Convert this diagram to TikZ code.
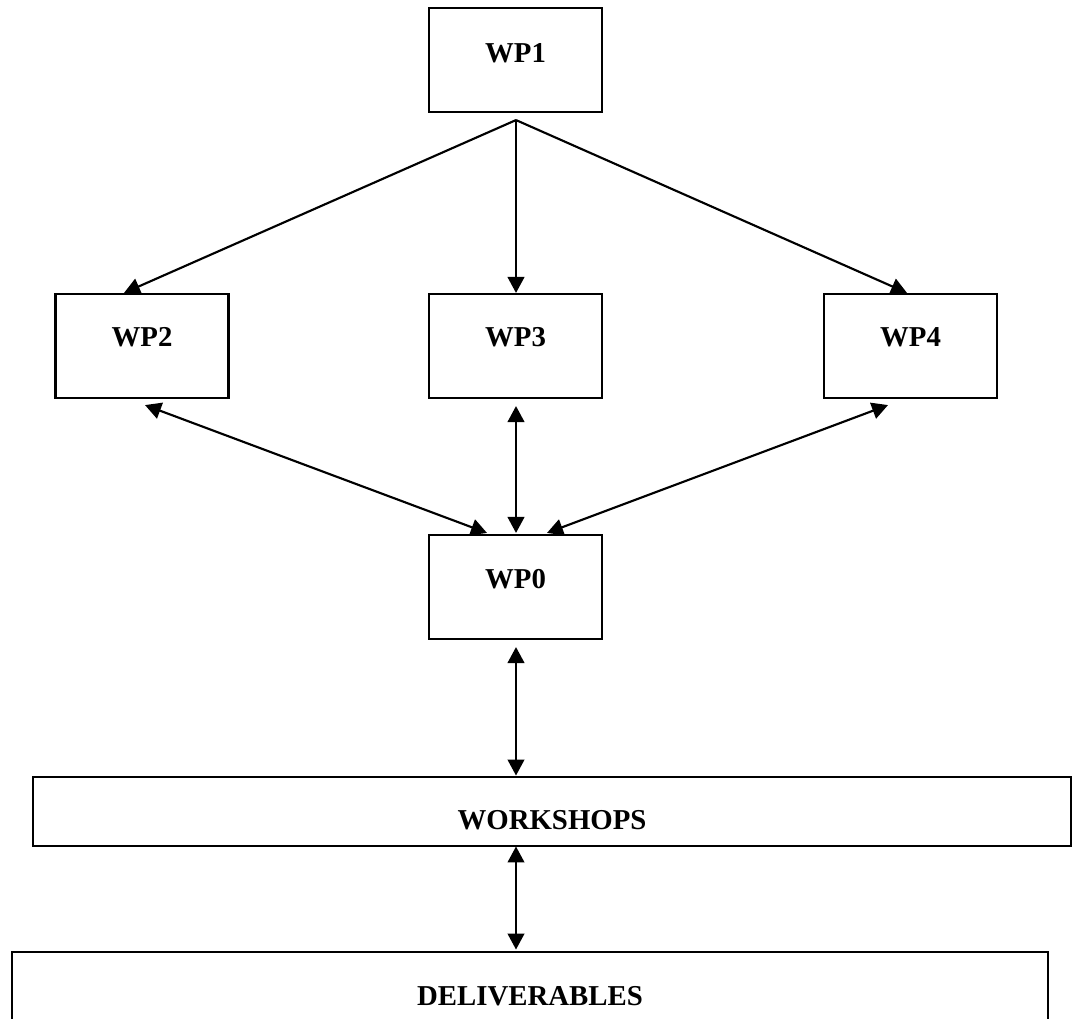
\documentclass[tikz,border=0pt]{standalone}
\usepackage{fontspec}
\setmainfont{Liberation Serif}
\usetikzlibrary{arrows.meta,calc}
\begin{document}
\begin{tikzpicture}[x=0.75pt,y=-0.75pt,
  box/.style={draw=black,line width=1.6pt,fill=white,minimum width=129.75pt,minimum height=78pt,inner sep=0pt},
  widebox/.style={draw=black,line width=2.2pt,inner sep=0pt},
  lbl/.style={font=\fontsize{21.6}{26}\selectfont\bfseries,inner sep=0pt},
  tip/.style={Triangle[length=12pt,width=12.5pt]},
  conn/.style={line width=1.6pt,-{Triangle[length=12pt,width=12.5pt]}},
  biconn/.style={line width=1.6pt,{Triangle[length=12pt,width=12.5pt]}-{Triangle[length=12pt,width=12.5pt]}}]
\useasboundingbox[fill=white] (0,0) rectangle (1073,1018);
% boxes
\node[box,label={[lbl,yshift=5.25pt]center:WP1}] (wp1) at (515.5,60) {};
\node[box,label={[lbl,yshift=6.75pt]center:WP2}] (wp2) at (142,346) {};
\node[box,label={[lbl,yshift=6.75pt]center:WP3}] (wp3) at (515.5,346) {};
\node[box,label={[lbl,yshift=6.75pt]center:WP4}] (wp4) at (910.5,346) {};
\node[box,label={[lbl,yshift=6pt]center:WP0}] (wp0) at (515.5,587) {};
\node[widebox,minimum width=778.5pt,minimum height=51.75pt,label={[lbl,yshift=-6.4pt]center:WORKSHOPS}] (ws) at (552,811.5) {};
\node[widebox,minimum width=777pt,minimum height=66pt,label={[lbl]center:DELIVERABLES}] (del) at (530,996) {};
% connectors from WP1
\coordinate (fork) at ($(wp1.south)+(0.5,7)$);
\draw[conn] (fork) -- ($(wp2.north)+(-18,0)$);
\draw[conn] (fork) -- ($(wp3.north)+(0.5,0)$);
\draw[conn] (fork) -- ($(wp4.north)+(-3.5,0)$);
% WP2/3/4 <-> WP0
\draw[biconn] ($(wp2.south)+(3,6)$) -- ($(wp0.north)+(-28.5,-1)$);
\draw[biconn] ($(wp3.south)+(0.5,7)$) -- ($(wp0.north)+(0.5,-1)$);
\draw[biconn] ($(wp4.south)+(-22.5,6)$) -- ($(wp0.north)+(31.5,-1)$);
% WP0 <-> workshops <-> deliverables
\draw[biconn] ($(wp0.south)+(0.5,7)$) -- ($(wp0.south |- ws.north)+(0.5,0)$);
\draw[biconn] ($(wp0.south |- ws.south)+(0.5,-1)$) -- ($(wp0.south |- del.north)+(0.5,-1)$);
\end{tikzpicture}
\end{document}
